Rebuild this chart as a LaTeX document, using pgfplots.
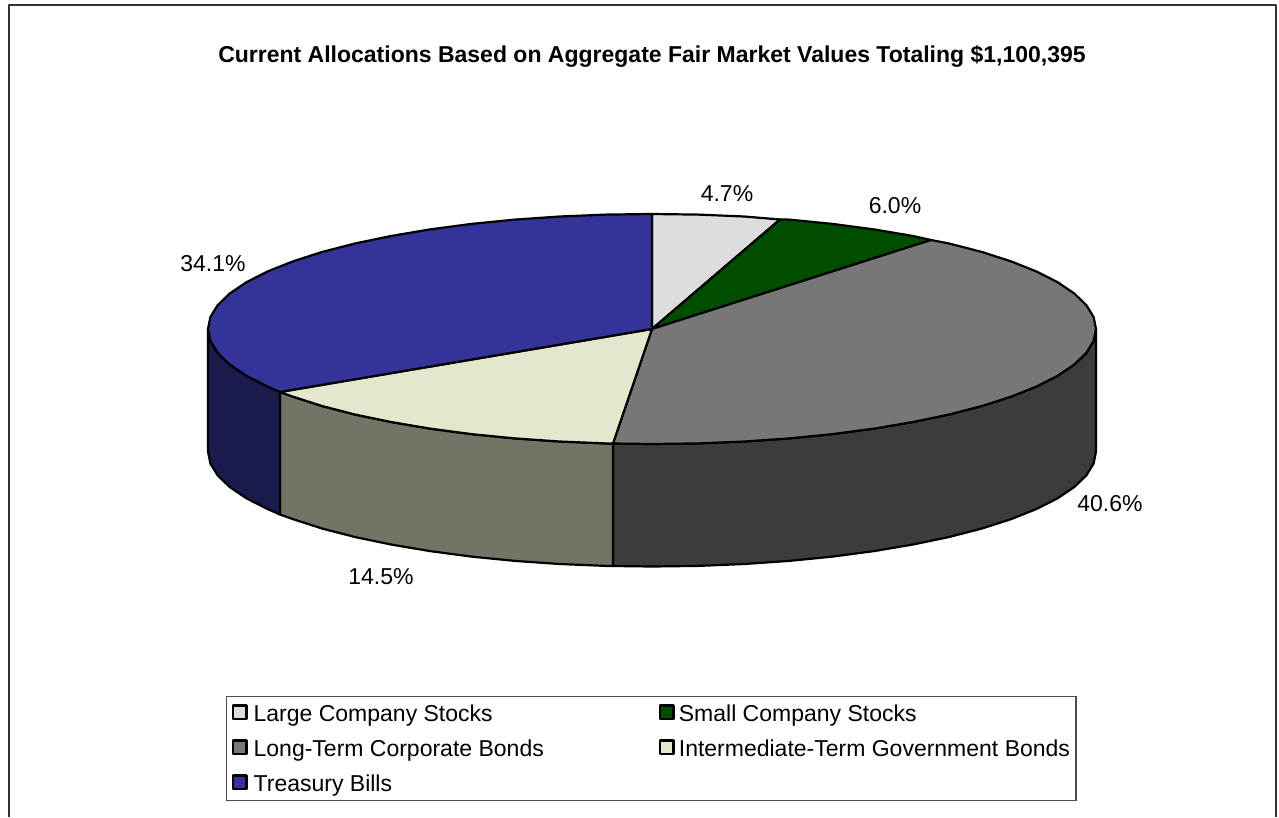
\documentclass[border=0pt]{standalone}
\usepackage{fontspec}
\setmainfont{Liberation Sans}
\usepackage{pgfplots}
\pgfplotsset{compat=1.18}
\definecolor{largec}{HTML}{DDDDDD}
\definecolor{smallc}{HTML}{004D00}
\definecolor{longc}{HTML}{777777}
\definecolor{longw}{HTML}{3C3C3C}
\definecolor{interc}{HTML}{E6E6CC}
\definecolor{interw}{HTML}{737366}
\definecolor{tbillc}{HTML}{333399}
\definecolor{tbillw}{HTML}{1A1A4D}
\begin{document}
\begin{tikzpicture}
\path[use as bounding box] (0,0) rectangle (1279pt,817pt);
\begin{axis}[
    at={(0,0)}, anchor=south west,
    scale only axis, width=1279pt, height=817pt,
    xmin=0, xmax=1279, ymin=0, ymax=817, y dir=reverse,
    hide axis, clip=false,
    every axis plot/.append style={draw=black, line width=2.2pt, line join=round},
    legend columns=2,
    legend cell align=left,
    legend style={
        at={(axis cs:226,696)}, anchor=north west,
        draw=black!70, line width=1.3pt, inner xsep=5pt, inner ysep=2.5pt,
        font=\fontsize{23pt}{26pt}\selectfont,
        row sep=6pt,
        nodes={inner sep=1pt, text height=21.5pt, text depth=5.5pt},
        /tikz/column 1/.style={column sep=5pt},
        /tikz/column 2/.style={column sep=114pt},
        /tikz/column 3/.style={column sep=3pt},
    },
    legend image code/.code={
        \draw[#1, line width=2.5pt] (0pt,-5.5pt) rectangle (13.5pt,8pt);
    },
]
% frame of the chart area
\addplot[draw=black!80, line width=1.6pt, forget plot] coordinates {(9,817) (9,5) (1276,5) (1276,817)};

% side walls
\addplot[fill=longw, forget plot] coordinates {
    (1096,329) (1093.6,341) (1086.3,352.9) (1074.3,364.5) (1057.6,375.8) (1036.5,386.5)
    (1011.2,396.6) (982,406) (949.1,414.5) (913,422) (874,428.6) (832.6,434.1)
    (789.2,438.4) (744.3,441.5) (698.4,443.4) (652,444) (613,443.5)
    (613,566) (652,566.5) (698.4,565.9) (744.3,564) (789.2,560.9) (832.6,556.6)
    (874,551.1) (913,544.5) (949.1,537) (982,528.5) (1011.2,519.1) (1036.5,509)
    (1057.6,498.3) (1074.3,487) (1086.3,475.4) (1093.6,463.5) (1096,451.5)
} -- cycle;
\addplot[fill=interw, forget plot] coordinates {
    (613,443.5) (605.6,443.4) (559.7,441.5) (514.8,438.4) (471.4,434.1) (430,428.6)
    (391,422) (354.9,414.5) (322,406) (292.8,396.6) (280,392)
    (280,514.5) (292.8,519.1) (322,528.5) (354.9,537) (391,544.5) (430,551.1)
    (471.4,556.6) (514.8,560.9) (559.7,564) (605.6,565.9) (613,566)
} -- cycle;
\addplot[fill=tbillw, forget plot] coordinates {
    (280,392) (267.5,386.5) (246.4,375.8) (229.7,364.5) (217.7,352.9) (210.4,341) (208,329)
    (208,451.5) (210.4,463.5) (217.7,475.4) (229.7,487) (246.4,498.3) (267.5,509) (280,514.5)
} -- cycle;

% top faces
\addplot[fill=largec] coordinates {
    (652,329) (652,214) (698.4,214.6) (744.3,216.5) (780,219.5)
} -- cycle;
\addlegendentry{Large Company Stocks}
\addplot[fill=smallc] coordinates {
    (652,329) (780,219.5) (789.2,219.6) (832.6,223.9) (874,229.4) (913,236) (931,240)
} -- cycle;
\addlegendentry{Small Company Stocks}
\addplot[fill=longc] coordinates {
    (652,329) (931,240) (949.1,243.5) (982,252) (1011.2,261.4) (1036.5,271.5)
    (1057.6,282.2) (1074.3,293.5) (1086.3,305.1) (1093.6,317) (1096,329)
    (1093.6,341) (1086.3,352.9) (1074.3,364.5) (1057.6,375.8) (1036.5,386.5)
    (1011.2,396.6) (982,406) (949.1,414.5) (913,422) (874,428.6) (832.6,434.1)
    (789.2,438.4) (744.3,441.5) (698.4,443.4) (652,444) (613,443.5)
} -- cycle;
\addlegendentry{Long-Term Corporate Bonds}
\addplot[fill=interc] coordinates {
    (652,329) (613,443.5) (605.6,443.4) (559.7,441.5) (514.8,438.4) (471.4,434.1)
    (430,428.6) (391,422) (354.9,414.5) (322,406) (292.8,396.6) (280,392)
} -- cycle;
\addlegendentry{Intermediate-Term Government Bonds}
\addplot[fill=tbillc] coordinates {
    (652,329) (280,392) (267.5,386.5) (246.4,375.8) (229.7,364.5) (217.7,352.9)
    (210.4,341) (208,329) (210.4,317) (217.7,305.1) (229.7,293.5) (246.4,282.2)
    (267.5,271.5) (292.8,261.4) (322,252) (354.9,243.5) (391,236) (430,229.4)
    (471.4,223.9) (514.8,219.6) (559.7,216.5) (605.6,214.6) (652,214)
} -- cycle;
\addlegendentry{Treasury Bills}

% title and data labels
\node[font=\bfseries\fontsize{23pt}{27pt}\selectfont] at (axis cs:652,56)
    {Current Allocations Based on Aggregate Fair Market Values Totaling \$1,100,395};
\tikzset{pct/.style={font=\fontsize{23pt}{26pt}\selectfont, inner sep=0pt}}
\node[pct] at (axis cs:727,194) {4.7\%};
\node[pct] at (axis cs:895,206) {6.0\%};
\node[pct] at (axis cs:213,264) {34.1\%};
\node[pct] at (axis cs:1110,504) {40.6\%};
\node[pct] at (axis cs:381,577) {14.5\%};
\end{axis}
\end{tikzpicture}
\end{document}
